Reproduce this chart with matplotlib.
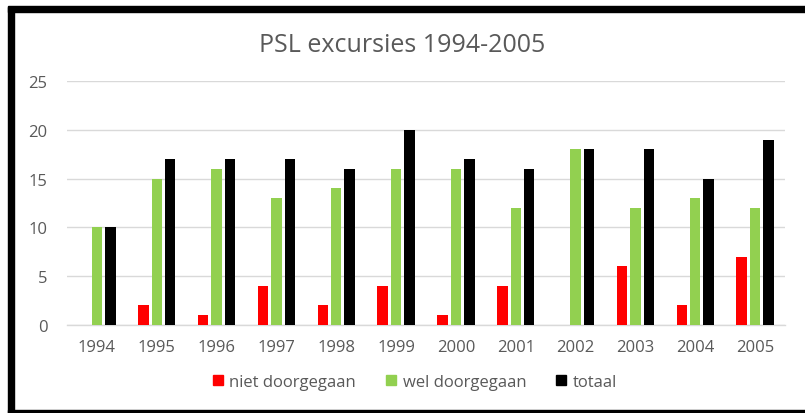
import matplotlib
matplotlib.use("Agg")
import matplotlib.pyplot as plt
from matplotlib.patches import Rectangle
import numpy as np

years = ["1994", "1995", "1996", "1997", "1998", "1999", "2000", "2001", "2002", "2003", "2004", "2005"]
niet_doorgegaan = [0, 2, 1, 4, 2, 4, 1, 4, 0, 6, 2, 7]
wel_doorgegaan = [10, 15, 16, 13, 14, 16, 16, 12, 18, 12, 13, 12]
totaal = [10, 17, 17, 17, 16, 20, 17, 16, 18, 18, 15, 19]
series_names = ["niet doorgegaan", "wel doorgegaan", "totaal"]
colors = ["#FF0000", "#92D050", "#000000"]

plt.rcParams['font.family'] = ['Open Sans', 'DejaVu Sans']
txt = "#595959"
grid = "#D9D9D9"

fig = plt.figure(figsize=(8.05, 4.14), dpi=100)
ax = fig.add_axes([67/805, 88/414, (785-67)/805, (326-82)/414])

x = np.arange(len(years))
w = 0.175
step = 0.225
for i, (vals, c, name) in enumerate(zip([niet_doorgegaan, wel_doorgegaan, totaal], colors, series_names)):
    ax.bar(x + (i - 1) * step, vals, width=w, color=c, label=name, zorder=3)

ax.set_xlim(-0.5, len(years) - 0.5)
ax.set_ylim(0, 25)
ax.set_yticks(range(0, 26, 5))
ax.set_xticks(x)
ax.set_xticklabels(years)
ax.yaxis.grid(True, color=grid, linewidth=1, zorder=0)
ax.set_axisbelow(True)
for s in ["top", "right", "left"]:
    ax.spines[s].set_visible(False)
ax.spines["bottom"].set_color(grid)
ax.spines["bottom"].set_linewidth(1)
ax.tick_params(axis="both", length=0, colors=txt, labelsize=12)
ax.tick_params(axis="y", pad=14)
ax.tick_params(axis="x", pad=10)

fig.text(0.5, 1 - 45/414, "PSL excursies 1994-2005", ha="center", va="center",
         fontsize=18, color=txt)

handles = [Rectangle((0, 0), 1, 1, color=c) for c in colors]
leg = fig.legend(handles, series_names, loc="center", bbox_to_anchor=(415/805, 1 - 383/414),
                 ncol=3, frameon=False, fontsize=12, handlelength=0.6, handleheight=0.6,
                 handletextpad=0.4, columnspacing=1.8)
for t in leg.get_texts():
    t.set_color(txt)

# black frame
fig.add_artist(Rectangle((8/805, 0), 6/805, 1 - 8/414, transform=fig.transFigure, color="black", zorder=10))
fig.add_artist(Rectangle((8/805, 1 - 13/414), 1, 6/414, transform=fig.transFigure, color="black", zorder=10))
fig.add_artist(Rectangle((8/805, 0), 1, 3/414, transform=fig.transFigure, color="black", zorder=10))

fig.savefig("out.png", dpi=100)
